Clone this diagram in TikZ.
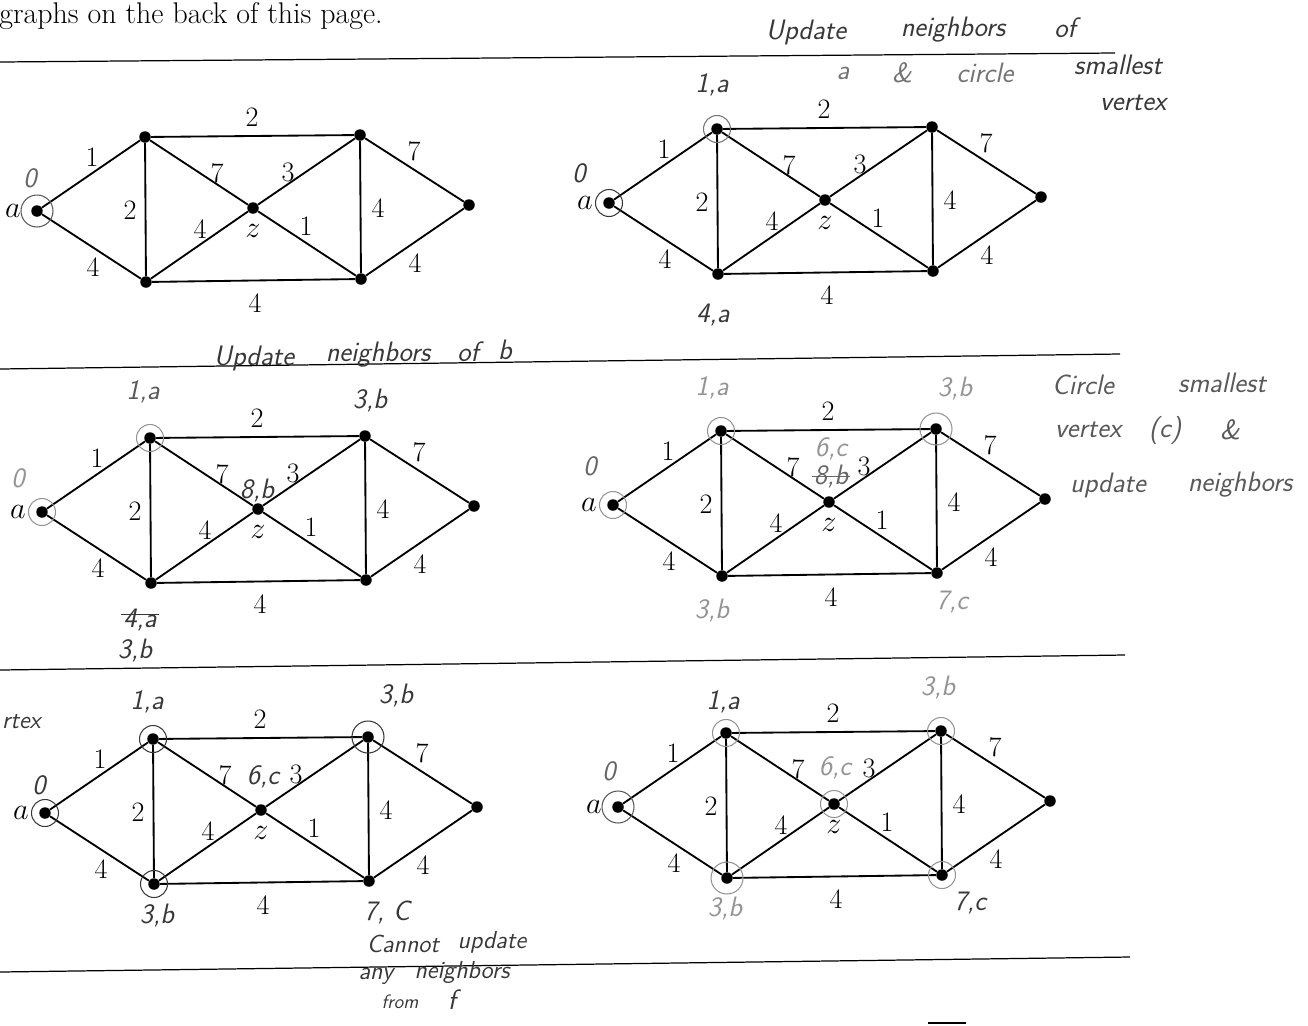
\documentclass[tikz,border=0pt]{standalone}
\usepackage{fontspec}
\usepackage{xcolor}
\usepackage{tikz}
\usetikzlibrary{positioning, calc}

\tikzset{
  vtx/.style={circle, fill=black, inner sep=0pt, minimum size=2.3mm},
  link/.style={line width=1.05pt},
  wt/.style={inner sep=1pt},
  hand/.style={font=\fontsize{16}{18}\selectfont\sffamily\itshape, inner sep=1pt},
  note hand/.style={hand, font=\fontsize{14}{16}\selectfont\sffamily\itshape},
  small hand/.style={hand, font=\fontsize{11}{13}\selectfont\sffamily\itshape},
  pen/.style={black!78},
  pencil/.style={black!42},
  ring/.style={circle, draw, inner sep=0pt, minimum size=5.4mm, line width=0.6pt},
  big ring/.style={ring, minimum size=6.4mm},
  rule/.style={line width=0.7pt}
}

\begin{document}
\begin{tikzpicture}[x=0.02cm, y=-0.02cm, font=\fontsize{16}{19}\selectfont]
  \useasboundingbox (0,0) rectangle (1308,1025);

  \node[anchor=base west, inner sep=0pt, font=\fontsize{17}{20}\selectfont] (head) at (-1,23) {graphs on the back of this page.};

  % page rules
  \draw[rule] (0,62) -- (1115,53);
  \draw[rule] (0,369) -- (1120,354);
  \draw[rule] (0,670) -- (1125,655);
  \draw[rule] (0,972) -- (1130,957);
  \draw[rule] (928,1023) -- (966,1023);

  % the same weighted graph, six times
  \foreach \g/\ox/\oy in {1/37/211, 2/609/203, 3/42/512, 4/613/505, 5/45/813, 6/618/807}{
    \begin{scope}[shift={(\ox,\oy)}]
      \node[vtx] (a\g) at (0,0) {};
      \node[vtx] (b\g) at (108,-74) {};
      \node[vtx] (c\g) at (109,71) {};
      \node[vtx] (z\g) at (216,-3) {};
      \node[vtx] (d\g) at (323,-76) {};
      \node[vtx] (e\g) at (324,68) {};
      \node[vtx] (f\g) at (432,-6) {};
      \node (la\g) at (-24,0) {$a$};
      \node (lz\g) at (216,20) {$z$};
      \draw[link] (a\g) -- (b\g) -- (d\g) -- (f\g) -- (e\g) -- (c\g) -- (a\g);
      \draw[link] (b\g) -- (c\g) (d\g) -- (e\g);
      \draw[link] (b\g) -- (z\g) -- (e\g) (c\g) -- (z\g) -- (d\g);
      \node[wt] (wab\g) at (55,-54) {1};
      \node[wt] (wac\g) at (56,56) {4};
      \node[wt] (wbc\g) at (93,-1) {2};
      \node[wt] (wbd\g) at (215,-94) {2};
      \node[wt] (wbz\g) at (180,-38) {7};
      \node[wt] (wcz\g) at (163,18) {4};
      \node[wt] (wzd\g) at (251,-39) {3};
      \node[wt] (wze\g) at (269,15) {1};
      \node[wt] (wde\g) at (341,-3) {4};
      \node[wt] (wdf\g) at (377,-60) {7};
      \node[wt] (wef\g) at (378,52) {4};
      \node[wt] (wce\g) at (218,92) {4};
    \end{scope}
  }

  % step 1
  \node[hand, black!60] (o1) at (30,178) {0};
  \node[big ring, black!65] (ra1) at (a1) {};

  % step 2
  \node[hand, pen] (t1) at (806,32) {Update};
  \node[hand, pen] (t2) at (953,30) {neighbors};
  \node[hand, pen] (t3) at (1065,28) {of};
  \node[hand, black!55] (t4) at (843,73) {a};
  \node[hand, black!55] (t5) at (902,73) {\&};
  \node[hand, black!55] (t6) at (985,73) {circle};
  \node[hand, pen] (t7) at (1118,65) {smallest};
  \node[hand, pen] (t8) at (1133,103) {vertex};
  \node[hand, pen] (o2) at (579,173) {0};
  \node[hand, pen] (b2l) at (712,85) {1,a};
  \node[hand, pen] (c2l) at (713,315) {4,a};
  \node[ring, pen] (ra2) at (a2) {};
  \node[ring, black!55] (rb2) at (b2) {};

  % step 3
  \node[hand, pen] (u1) at (254,358) {Update};
  \node[hand, pen] (u2) at (378,355) {neighbors};
  \node[hand, pen] (u3) at (468,352) {of};
  \node[hand, pen] (u4) at (505,350) {b};
  \node[hand, pencil] (o3) at (18,478) {0};
  \node[hand, black!65] (b3l) at (143,392) {1,a};
  \node[hand, pen] (d3l) at (370,400) {3,b};
  \node[hand, pen] (z3l) at (257,490) {8,b};
  \node[hand, pen] (c3x) at (140,620) {4,a};
  \draw[pen] ([yshift=3pt]c3x.west) -- ([yshift=3pt]c3x.east);
  \node[hand, pen] (c3l) at (135,650) {3,b};
  \node[ring, pencil] (ra3) at (a3) {};
  \node[ring, pencil] (rb3) at (b3) {};

  % step 4
  \node[hand, black!60] (o4) at (590,466) {0};
  \node[hand, pencil] (b4l) at (712,388) {1,a};
  \node[hand, pencil] (d4l) at (955,388) {3,b};
  \node[hand, pencil] (z4l) at (831,449) {6,c};
  \node[hand, black!60] (z4x) at (831,476) {8,b};
  \draw[black!60] (z4x.west) -- (z4x.east);
  \node[hand, pencil] (c4l) at (712,610) {3,b};
  \node[hand, pencil] (e4l) at (952,602) {7,c};
  \node[ring, pencil] (ra4) at (a4) {};
  \node[ring, pencil] (rb4) at (b4) {};
  \node[big ring, pencil] (rd4) at (d4) {};
  \node[hand, black!65] (s1) at (1083,385) {Circle};
  \node[hand, black!65] (s2) at (1222,383) {smallest};
  \node[hand, black!65] (s3) at (1088,430) {vertex};
  \node[hand, black!65] (s4) at (1165,430) {(c)};
  \node[hand, black!65] (s5) at (1230,430) {\&};
  \node[hand, black!65] (s6) at (1108,485) {update};
  \node[hand, black!65] (s7) at (1240,485) {neighbors};

  % step 5
  \node[note hand, pen, anchor=west] (v0) at (0,722) {rtex};
  \node[hand, pen] (o5) at (39,785) {0};
  \node[hand, pen] (b5l) at (147,702) {1,a};
  \node[hand, pen] (d5l) at (396,695) {3,b};
  \node[hand, pen] (z5l) at (263,777) {6,c};
  \node[hand, pen] (c5l) at (157,915) {3,b};
  \node[hand, pen] (e5l) at (387,912) {7, C};
  \node[ring, pen] (ra5) at (a5) {};
  \node[ring, pen] (rb5) at (b5) {};
  \node[ring, pen] (rc5) at (c5) {};
  \node[big ring, pen] (rd5) at (d5) {};
  \node[note hand, pen] (n1) at (403,944) {Cannot};
  \node[note hand, pen] (n2) at (492,942) {update};
  \node[note hand, pen] (n3) at (376,976) {any};
  \node[note hand, pen] (n4) at (462,972) {neighbors};
  \node[small hand, pen] (n5) at (400,1002) {from};
  \node[hand, pen] (n6) at (452,1000) {f};

  % step 6
  \node[hand, black!60] (o6) at (609,771) {0};
  \node[hand, pen] (b6l) at (723,702) {1,a};
  \node[hand, pencil] (d6l) at (938,687) {3,b};
  \node[hand, pencil] (z6l) at (835,768) {6,c};
  \node[hand, pencil] (c6l) at (725,908) {3,b};
  \node[hand, pen] (e6l) at (970,903) {7,c};
  \node[big ring, black!65] (ra6) at (a6) {};
  \node[ring, pencil] (rb6) at (b6) {};
  \node[big ring, pencil] (rc6) at (c6) {};
  \node[ring, pencil] (rz6) at (z6) {};
  \node[ring, pencil] (rd6) at (d6) {};
  \node[ring, pencil] (re6) at (e6) {};
\end{tikzpicture}
\end{document}
